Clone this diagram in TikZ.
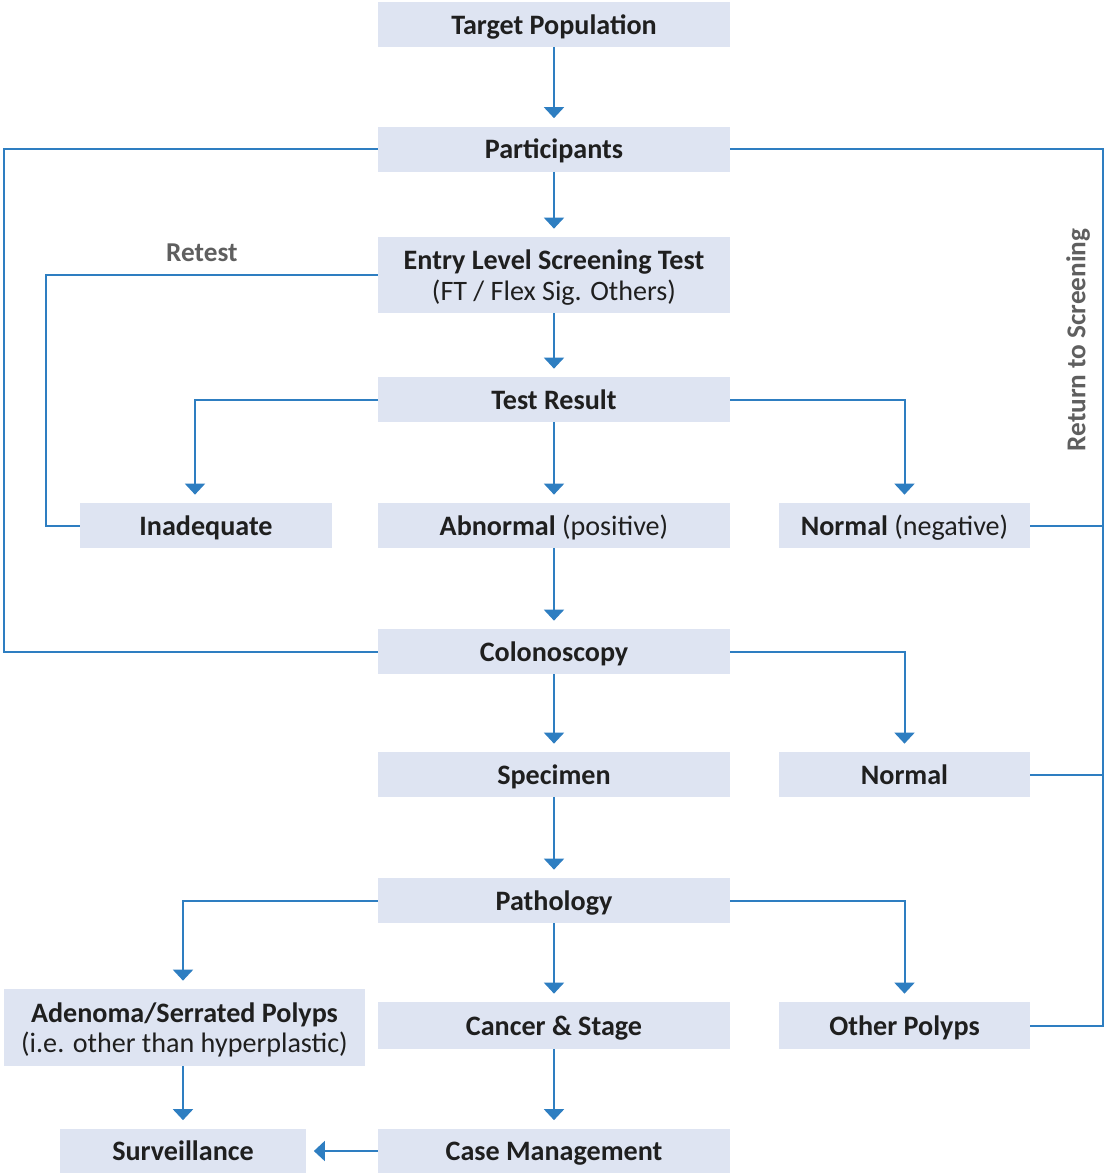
\documentclass[tikz,border=0pt]{standalone}
\usepackage{fontspec}
\setmainfont{Carlito}
\usetikzlibrary{positioning,arrows.meta,calc}
\definecolor{boxfill}{RGB}{222,228,242}
\definecolor{flow}{RGB}{46,126,193}
\definecolor{note}{RGB}{95,95,95}

\begin{document}
\begin{tikzpicture}[
    x=0.2mm, y=-0.2mm,
    font=\fontsize{16}{17.5}\selectfont,
    box/.style={fill=boxfill, inner sep=2pt, align=center, text depth=0pt, minimum height=9mm, minimum width=70.4mm, text=black!88, font=\fontsize{16}{17.5}\selectfont\bfseries},
    side/.style={box, minimum width=50.2mm},
    link/.style={flow, line width=0.4mm},
    arr/.style={link, -{Triangle[width=4mm,length=2.2mm]}, shorten >=1.6mm},
    tag/.style={text=note, font=\fontsize{15.5}{17}\selectfont\bfseries}
]
\useasboundingbox (0,0) rectangle (1105,1173);

% Main column
\node[box] (target) at (554,24.5) {Target Population};
\node[box] (part) at (554,149) {Participants};
\node[box, minimum height=15.2mm] (entry) at (554,275) {Entry Level Screening Test\\\mdseries (FT / Flex Sig. Others)};
\node[box] (result) at (554,399.5) {Test Result};
\node[box] (abn) at (554,525.5) {Abnormal \mdseries(positive)};
\node[box] (colon) at (554,651.5) {Colonoscopy};
\node[box] (spec) at (554,774.5) {Specimen};
\node[box] (path) at (554,900.5) {Pathology};
\node[box, minimum height=9.4mm] (cancer) at (554,1025.5) {Cancer \& Stage};
\node[box] (case) at (554,1151) {Case Management};

% Left branch
\node[side, minimum width=50.4mm] (inad) at (206,525.5) {Inadequate};
\node[box, minimum width=72.2mm, minimum height=15.4mm] (aden) at (184.5,1027.5) {Adenoma/Serrated Polyps\\\mdseries(i.e. other than hyperplastic)};
\node[box, minimum width=49mm] (surv) at (183,1151) {Surveillance};

% Right branch
\node[side] (neg) at (904.5,525.5) {Normal \mdseries(negative)};
\node[side] (normal) at (904.5,774.5) {Normal};
\node[side, minimum height=9.4mm] (other) at (904.5,1025.5) {Other Polyps};

% Rails
\coordinate (lrail) at (4,0);
\coordinate (trail) at (46,0);
\coordinate (rrail) at (1103,0);

% Arrows down the middle
\draw[arr] (target.south) -- (part.north);
\draw[arr] (part.south) -- (entry.north);
\draw[arr] (entry.south) -- (result.north);
\draw[arr] (result.south) -- (abn.north);
\draw[arr] (abn.south) -- (colon.north);
\draw[arr] (colon.south) -- (spec.north);
\draw[arr] (spec.south) -- (path.north);
\draw[arr] (path.south) -- (cancer.north);
\draw[arr] (cancer.south) -- (case.north);
\draw[arr] (aden.south -| surv.north) -- (surv.north);
\draw[arr] (case.west) -- (surv.east);

% Side branches
\draw[arr] (result.west) -| ([xshift=-2.2mm]inad.north);
\draw[arr] (result.east) -| (neg.north);
\draw[arr] (colon.east) -| (normal.north);
\draw[arr] (path.west) -| (surv.north |- aden.north);
\draw[arr] (path.east) -| (other.north);

% Loops
\draw[link] (part.west) -- (part.west -| lrail) |- (colon.west);
\draw[link] (entry.west) -- node[tag, above=4pt, pos=0.53, inner sep=3pt] (retest) {Retest} (entry.west -| trail) |- (inad.west);
\draw[link] (part.east) -- (part.east -| rrail) |- (other.east);
\draw[link] (neg.east) -- (neg.east -| rrail);
\draw[link] (normal.east) -- (normal.east -| rrail);
\node[tag, rotate=90] (back) at (1078,340) {Return to Screening};

\end{tikzpicture}
\end{document}
